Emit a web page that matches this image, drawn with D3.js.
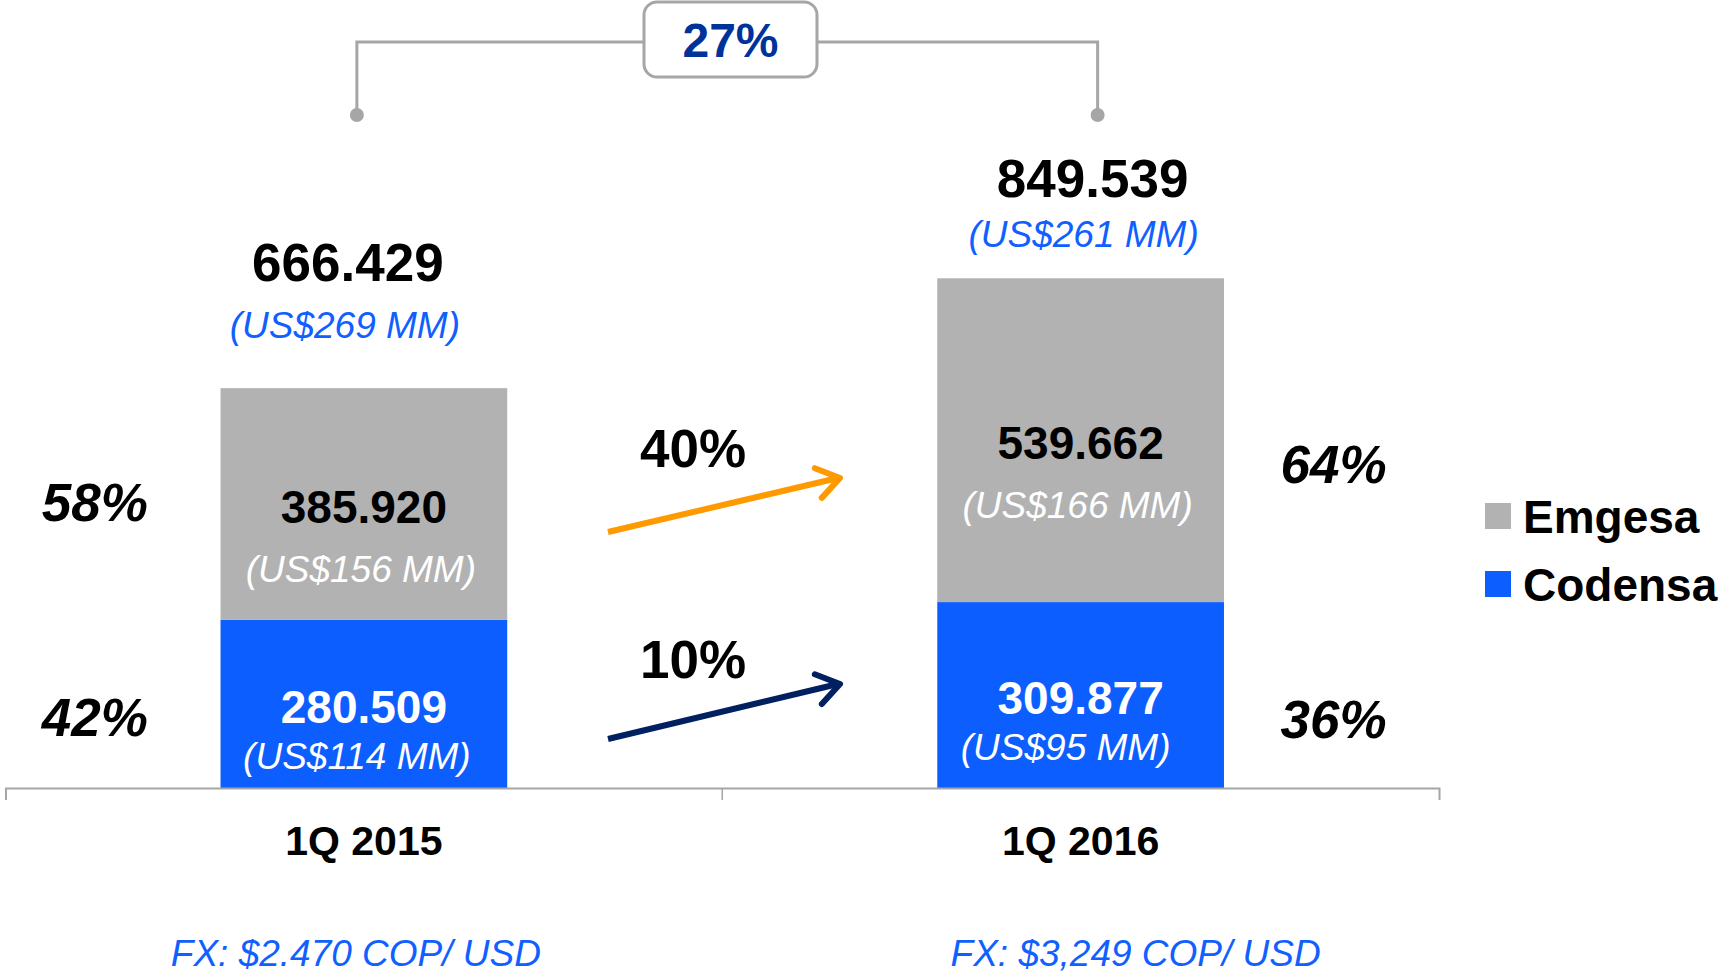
<!DOCTYPE html>
<html>
<head>
<meta charset="utf-8">
<script src="https://cdn.jsdelivr.net/npm/d3@7"></script>
<style>
  html, body { margin: 0; padding: 0; background: #fff; }
  svg { display: block; font-family: "Liberation Sans", Arial, sans-serif; }
</style>
</head>
<body>
<svg width="1725" height="973"></svg>
<script>
// Data (COP millions, USD millions)
const periods = ["1Q 2015", "1Q 2016"];
const codensa = [280509, 309877];
const emgesa = [385920, 539662];
const codensaUsd = [114, 95];
const emgesaUsd = [156, 166];
const totalUsd = [269, 261];
const codensaShare = ["42%", "36%"];
const emgesaShare = ["58%", "64%"];
const fxLabels = ["FX: $2.470 COP/ USD", "FX: $3,249 COP/ USD"];
const growthTotal = "27%";
const growthEmgesa = "40%";
const growthCodensa = "10%";

const gray = "#b2b2b2";
const blue = "#0c5eff";
const textBlue = "#1060ff";

const svg = d3.select("svg");

// Colombian style numbers: 385.920
const fmt = d3.formatLocale({ decimal: ",", thousands: ".", grouping: [3], currency: ["$", ""] }).format(",d");

const rows = periods.map((p, i) => ({ period: p, codensa: codensa[i], emgesa: emgesa[i] }));
const stack = d3.stack().keys(["codensa", "emgesa"])(rows);

const x = d3.scaleBand()
    .domain(periods)
    .range([5.5, 1439]);

const y = d3.scaleLinear()
    .domain([0, 1000000])
    .range([788, 188]);

const barW = x.bandwidth() * 0.4;
const cx = p => x(p) + x.bandwidth() / 2;

// Top bracket with total growth
const bx1 = cx(periods[0]) - 7, bx2 = cx(periods[1]) + 17;
const by = 42, dotY = 115;
const bracket = svg.append("g").attr("stroke", "#a6a6a6").attr("stroke-width", 3).attr("fill", "none");
bracket.append("path").attr("d", `M${bx1},${dotY}V${by}H${bx2}V${dotY}`);
svg.selectAll(".dot")
  .data([bx1, bx2])
  .join("circle")
    .attr("cx", d => d).attr("cy", dotY).attr("r", 7)
    .attr("fill", "#a6a6a6");
svg.append("rect")
    .attr("x", 644).attr("y", 2).attr("width", 173).attr("height", 75)
    .attr("rx", 13)
    .attr("fill", "#fff").attr("stroke", "#a6a6a6").attr("stroke-width", 3);
svg.append("text").attr("x", 730.5).attr("y", 57)
    .attr("text-anchor", "middle")
    .attr("font-size", 48).attr("font-weight", "bold").attr("fill", "#003399")
    .text(growthTotal);

// Bars
const colors = { codensa: blue, emgesa: gray };
svg.append("g")
  .selectAll("g")
  .data(stack)
  .join("g")
    .attr("fill", d => colors[d.key])
  .selectAll("rect")
  .data(d => d)
  .join("rect")
    .attr("x", d => cx(d.data.period) - barW / 2)
    .attr("y", d => y(d[1]))
    .attr("width", barW)
    .attr("height", d => y(d[0]) - y(d[1]));

// Axis
const axis = svg.append("g")
    .attr("transform", `translate(0,${y(0)})`)
    .call(d3.axisBottom(x).tickSizeInner(0).tickSizeOuter(12));
axis.select(".domain").attr("stroke", "#a6a6a6").attr("stroke-width", 2);
axis.selectAll(".tick text")
    .attr("y", 67).attr("dy", 0)
    .attr("fill", "#000")
    .style("font-size", "41px")
    .style("font-weight", "bold")
    .style("font-family", "'Liberation Sans', Arial, sans-serif");
axis.append("line")
    .attr("x1", x(periods[1])).attr("x2", x(periods[1]))
    .attr("y1", 0).attr("y2", 12)
    .attr("stroke", "#a6a6a6").attr("stroke-width", 1.5);

// Segment labels
const seg = d => ({ mid: (y(d[0]) + y(d[1])) / 2, c: cx(d.data.period) });
const emg = stack[1], cod = stack[0];

const labels = svg.append("g").attr("text-anchor", "middle");
emg.forEach((d, i) => {
  const s = seg(d);
  labels.append("text").attr("x", s.c).attr("y", s.mid + 19)
      .attr("font-size", 46).attr("font-weight", "bold").attr("fill", "#000")
      .text(fmt(emgesa[i]));
  labels.append("text").attr("x", s.c - 3).attr("y", s.mid + 78)
      .attr("font-size", 37).attr("font-style", "italic").attr("fill", "#fff")
      .text(`(US$${emgesaUsd[i]} MM)`);
});
cod.forEach((d, i) => {
  const s = seg(d);
  labels.append("text").attr("x", s.c).attr("y", s.mid + 19)
      .attr("font-size", 46).attr("font-weight", "bold").attr("fill", "#fff")
      .text(fmt(codensa[i]));
  labels.append("text").attr("x", s.c - 7 - i * 8).attr("y", s.mid + 65)
      .attr("font-size", 37).attr("font-style", "italic").attr("fill", "#fff")
      .text(`(US$${codensaUsd[i]} MM)`);
});

// Totals above bars
const totalDx = [-16, 12], totalDy = [-107, -81];
const usdDx = [-19, 3], usdDy = [-50, -31];
emg.forEach((d, i) => {
  const c = cx(d.data.period);
  labels.append("text").attr("x", c + totalDx[i]).attr("y", y(d[1]) + totalDy[i])
      .attr("font-size", 53).attr("font-weight", "bold").attr("fill", "#000")
      .text(fmt(d[1]));
  labels.append("text").attr("x", c + usdDx[i]).attr("y", y(d[1]) + usdDy[i])
      .attr("font-size", 37).attr("font-style", "italic").attr("fill", textBlue)
      .text(`(US$${totalUsd[i]} MM)`);
});

// Share labels left/right of bars
const shareX = [cx(periods[0]) - 269, cx(periods[1]) + 253];
const emgShareY = [521, 483], codShareY = [736, 738];
periods.forEach((p, i) => {
  labels.append("text").attr("x", shareX[i]).attr("y", emgShareY[i])
      .attr("font-size", 53).attr("font-weight", "bold").attr("font-style", "italic")
      .text(emgesaShare[i]);
  labels.append("text").attr("x", shareX[i]).attr("y", codShareY[i])
      .attr("font-size", 53).attr("font-weight", "bold").attr("font-style", "italic")
      .text(codensaShare[i]);
});

// FX labels
const fxDx = [-8, 55];
periods.forEach((p, i) => {
  labels.append("text").attr("x", cx(p) + fxDx[i]).attr("y", 966)
      .attr("font-size", 37).attr("font-style", "italic").attr("fill", textBlue)
      .text(fxLabels[i]);
});

// Growth arrows
function arrow(g, x1, y1, x2, y2, color) {
  const a = Math.atan2(y2 - y1, x2 - x1);
  const len = 27, spread = 0.6;
  const p1 = [x2 - len * Math.cos(a - spread), y2 - len * Math.sin(a - spread)];
  const p2 = [x2 - len * Math.cos(a + spread), y2 - len * Math.sin(a + spread)];
  g.append("line").attr("x1", x1).attr("y1", y1).attr("x2", x2 - 2).attr("y2", y2)
      .attr("stroke", color).attr("stroke-width", 6);
  g.append("path").attr("d", `M${p1}L${x2},${y2}L${p2}`)
      .attr("fill", "none").attr("stroke", color).attr("stroke-width", 6)
      .attr("stroke-linecap", "round").attr("stroke-linejoin", "round");
}
const arrows = svg.append("g");
arrow(arrows, 608, 532, 840, 478, "#ff9900");
arrow(arrows, 608, 739, 840, 684, "#002060");
labels.append("text").attr("x", 693).attr("y", 467)
    .attr("font-size", 53).attr("font-weight", "bold").text(growthEmgesa);
labels.append("text").attr("x", 693).attr("y", 678)
    .attr("font-size", 53).attr("font-weight", "bold").text(growthCodensa);

// Legend
const legend = svg.append("g").attr("transform", "translate(1485,0)");
const legendItems = [["Emgesa", gray, 503], ["Codensa", blue, 571]];
legend.selectAll("rect")
  .data(legendItems)
  .join("rect")
    .attr("x", 0).attr("y", d => d[2]).attr("width", 26).attr("height", 26)
    .attr("fill", d => d[1]);
legend.selectAll("text")
  .data(legendItems)
  .join("text")
    .attr("x", 38).attr("y", d => d[2] + 30)
    .attr("font-size", 46).attr("font-weight", "bold")
    .text(d => d[0]);
</script>
</body>
</html>
